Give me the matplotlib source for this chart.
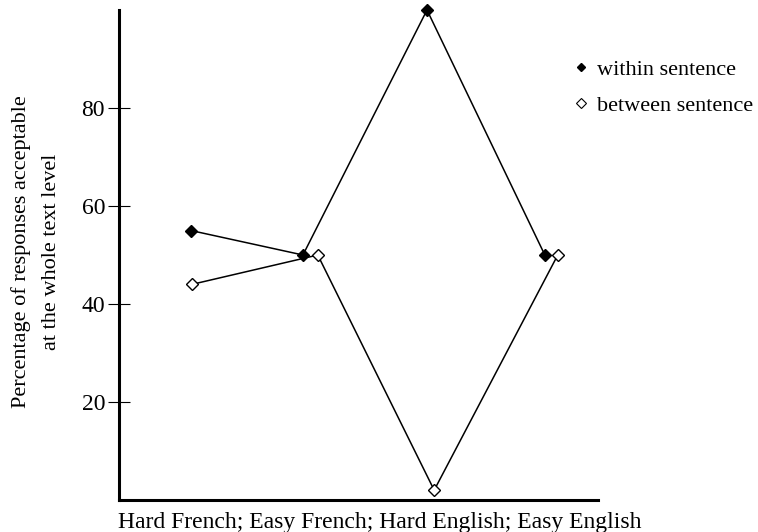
import matplotlib
matplotlib.use("Agg")
import matplotlib.pyplot as plt
from matplotlib.lines import Line2D

# data
categories = ["Hard French", "Easy French", "Hard English", "Easy English"]
within_pos = [15.0, 38.4, 64.3, 88.9]
within_vals = [55, 50, 100, 50]
between_pos = [15.2, 41.5, 65.8, 91.6]
between_vals = [44, 50, 2, 50]
y_ticks = [20, 40, 60, 80]

font = ["Liberation Serif", "DejaVu Serif"]
plt.rcParams["font.family"] = font
plt.rcParams["font.size"] = 17

fig = plt.figure(figsize=(7.58, 5.32), dpi=100)
ax = fig.add_axes([119 / 758, 1 - 500 / 532, 479 / 758, 490 / 532])

ax.plot(within_pos, within_vals, color="black", lw=1.1,
        marker="D", markersize=6.5, markerfacecolor="black",
        markeredgecolor="black", clip_on=False, zorder=3)
ax.plot(between_pos, between_vals, color="black", lw=1.1,
        marker="D", markersize=6.5, markerfacecolor="white",
        markeredgecolor="black", markeredgewidth=1.0, clip_on=False, zorder=3)

ax.set_xlim(0, 100)
ax.set_ylim(0, 100)
ax.spines["top"].set_visible(False)
ax.spines["right"].set_visible(False)
ax.spines["left"].set_linewidth(2.2)
ax.spines["bottom"].set_linewidth(2.2)

ax.set_xticks([])
ax.set_yticks(y_ticks)
ax.set_yticklabels([str(t) for t in y_ticks])
ax.tick_params(axis="y", direction="inout", length=16, width=0.8, pad=2,
               labelsize=17)

ax.set_xlabel("; ".join(categories), fontsize=17, ha="left")
ax.xaxis.set_label_coords(-0.003, -0.025)

fig.text(36 / 758, 1 - 252 / 532,
         "Percentage of responses acceptable\nat the whole text level",
         rotation=90, ha="center", va="center", multialignment="center",
         fontsize=16, linespacing=1.75)

handles = [
    Line2D([], [], ls="none", marker="D", markersize=4.5,
           markerfacecolor="black", markeredgecolor="black"),
    Line2D([], [], ls="none", marker="D", markersize=5,
           markerfacecolor="white", markeredgecolor="black", markeredgewidth=0.8),
]
leg = fig.legend(handles, ["within sentence", "between sentence"],
                 loc="upper left", bbox_to_anchor=(574 / 758, 1 - 59 / 532),
                 frameon=False, handlelength=0.6, handletextpad=0.45,
                 labelspacing=0.7, borderaxespad=0, borderpad=0, fontsize=16)

fig.savefig("out.png", dpi=100)
